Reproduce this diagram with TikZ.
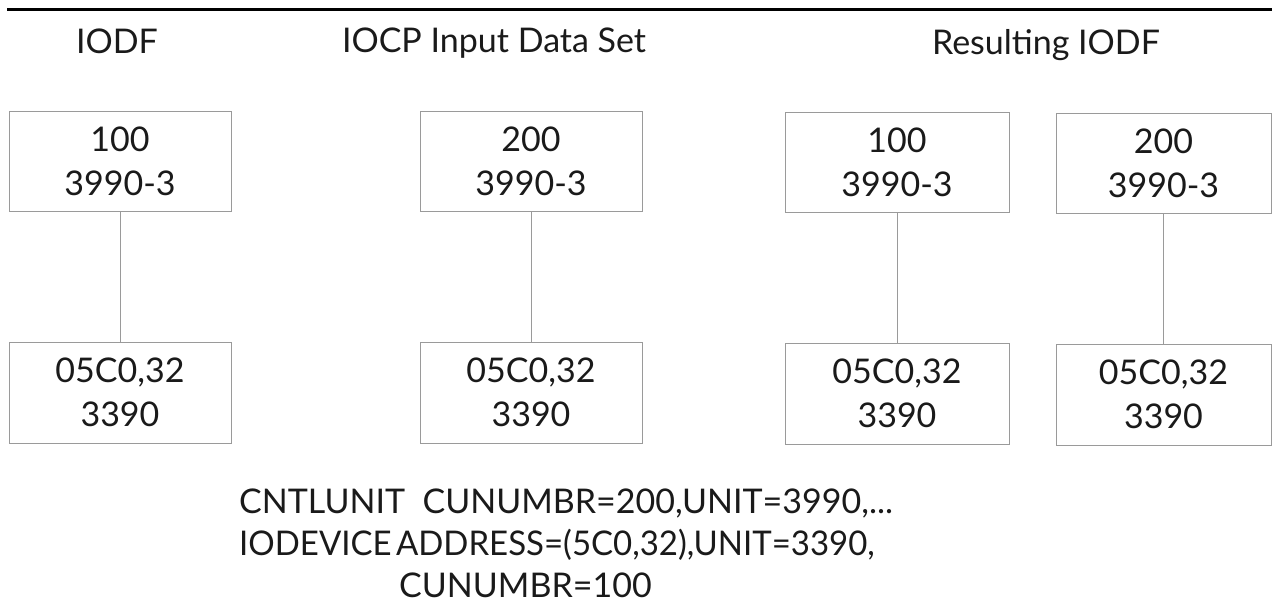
\documentclass[tikz,border=0pt]{standalone}
\usepackage{fontspec}
\setmainfont{Lato}
\definecolor{boxgray}{HTML}{9A9A9A}
\definecolor{ink}{HTML}{1A1A1A}
\begin{document}
\begin{tikzpicture}[x=1pt,y=-1pt,
  txt/.style={font=\fontsize{34}{44}\selectfont, text=ink},
  box/.style={txt, draw=boxgray, line width=0.9pt, minimum width=222pt, minimum height=100pt, inner sep=0pt, align=center},
  conn/.style={draw=boxgray, line width=0.9pt},
  head/.style={txt, anchor=base, inner sep=0pt},
  code/.style={txt, anchor=base west, inner sep=0pt}]
\useasboundingbox (0,0) rectangle (1272,602);
\draw[line width=3pt, black] (7,10) -- (1272,10);
\node[head] (h1) at (117,54) {IODF};
\node[head] (h2) at (494,53) {IOCP Input Data Set};
\node[head] (h3) at (1046,55) {Resulting IODF};
\node[box] (a1) at (120,161) {100\\3990-3};
\node[box, minimum height=101pt] (a2) at (120,392.5) {05C0,32\\3390};
\node[box] (b1) at (531,161) {200\\3990-3};
\node[box, minimum height=101pt] (b2) at (531,392.5) {05C0,32\\3390};
\node[box, minimum width=224pt] (c1) at (897,162.5) {100\\3990-3};
\node[box, minimum width=224pt, minimum height=101pt] (c2) at (897,393.5) {05C0,32\\3390};
\node[box, minimum width=215pt] (d1) at (1163.5,163) {200\\3990-3};
\node[box, minimum width=215pt, minimum height=101pt] (d2) at (1163.5,394.5) {05C0,32\\3390};
\draw[conn] (a1) -- (a2);
\draw[conn] (b1) -- (b2);
\draw[conn] (c1) -- (c2);
\draw[conn] (d1) -- (d2);
\node[code] (l1) at (239,513) {CNTLUNIT\ \ CUNUMBR=200,UNIT=3990,...};
\node[code] (l2) at (239,555) {\scalebox{0.97}[1]{IODEVICE\hspace{4.5pt}ADDRESS=(5C0,32),UNIT=3390,}};
\node[code] (l3) at (399,597) {CUNUMBR=100};
\end{tikzpicture}
\end{document}
